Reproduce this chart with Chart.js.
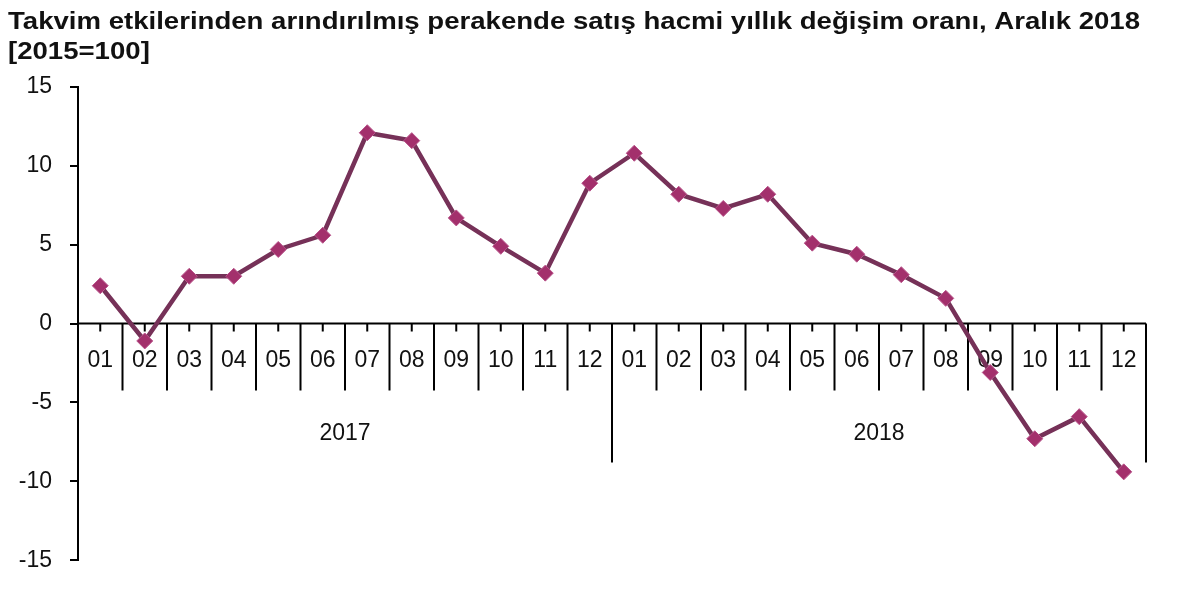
<!DOCTYPE html>
<html><head><meta charset="utf-8">
<script src="https://cdn.jsdelivr.net/npm/chart.js@4"></script>
<style>html,body{margin:0;padding:0;background:#fff;overflow:hidden}canvas{display:block}</style>
</head><body>
<canvas id="c" width="1200" height="592" style="width:1200px;height:592px"></canvas>
<script>
const titleLines = ['Takvim etkilerinden arındırılmış perakende satış hacmi yıllık değişim oranı, Aralık 2018', '[2015=100]'];
const years = ['2017', '2018'];
const months = ['01','02','03','04','05','06','07','08','09','10','11','12'];
const categories = years.flatMap(y => months.map(m => y + '-' + m));
const values = [2.4, -1.1, 3.0, 3.0, 4.7, 5.6, 12.1, 11.6, 6.7, 4.9, 3.2, 8.9,
                10.8, 8.2, 7.3, 8.2, 5.1, 4.4, 3.1, 1.6, -3.1, -7.3, -5.9, -9.4];
const yTicks = [-15, -10, -5, 0, 5, 10, 15];

const FONT = '"Liberation Sans", Arial, sans-serif';

const decor = {
  id: 'decor',
  beforeDatasetsDraw(chart) {
    const ctx = chart.ctx, x = chart.scales.x, y = chart.scales.y, a = chart.chartArea;
    const y0 = y.getPixelForValue(0);
    ctx.save();
    ctx.strokeStyle = '#000';
    ctx.lineWidth = 2;
    ctx.beginPath();
    ctx.moveTo(a.left, y0); ctx.lineTo(a.right, y0);
    const n = categories.length;
    for (let i = 0; i < n; i++) {
      const cx = x.getPixelForValue(i);
      ctx.moveTo(cx, y0); ctx.lineTo(cx, y0 + 8);
    }
    for (let i = 0; i < n - 1; i++) {
      const bx = (x.getPixelForValue(i) + x.getPixelForValue(i + 1)) / 2;
      const long = (i + 1) % months.length === 0;
      ctx.moveTo(bx, y0); ctx.lineTo(bx, y0 + (long ? 139 : 67));
    }
    ctx.moveTo(a.right, y0); ctx.lineTo(a.right, y0 + 139);
    ctx.stroke();
    ctx.fillStyle = '#111';
    ctx.font = '23px ' + FONT;
    ctx.textAlign = 'center';
    ctx.textBaseline = 'middle';
    for (let i = 0; i < n; i++) {
      ctx.fillText(months[i % months.length], x.getPixelForValue(i), y0 + 37);
    }
    years.forEach((yr, k) => {
      const first = x.getPixelForValue(k * months.length);
      const last = x.getPixelForValue(k * months.length + months.length - 1);
      ctx.fillText(yr, (first + last) / 2, y0 + 110);
    });
    ctx.restore();
  },
  afterDraw(chart) {
    const ctx = chart.ctx;
    ctx.save();
    ctx.fillStyle = '#111';
    ctx.font = 'bold 24px ' + FONT;
    ctx.textAlign = 'left';
    ctx.textBaseline = 'alphabetic';
    const targetWidth = 1132;
    const sx = targetWidth / ctx.measureText(titleLines[0]).width;
    ctx.translate(8, 0);
    ctx.scale(sx, 1);
    ctx.fillText(titleLines[0], 0, 29);
    ctx.fillText(titleLines[1], 0, 59);
    ctx.restore();
  }
};

new Chart(document.getElementById('c'), {
  type: 'line',
  data: {
    labels: categories,
    datasets: [{
      data: values,
      borderColor: '#763158',
      borderWidth: 4.5,
      tension: 0,
      pointStyle: 'rectRot',
      pointRadius: 8,
      pointBackgroundColor: '#a3306c',
      pointBorderColor: '#b8538a',
      pointBorderWidth: 1
    }]
  },
  options: {
    responsive: false,
    animation: false,
    devicePixelRatio: 1,
    layout: { padding: { left: 0, right: 54, top: 87, bottom: 31 } },
    plugins: { legend: { display: false }, title: { display: false }, tooltip: { enabled: false } },
    scales: {
      x: { display: false, offset: true },
      y: {
        min: -15, max: 15,
        afterBuildTicks: s => { s.ticks = yTicks.map(v => ({ value: v })); },
        afterFit: s => { s.width = 78; },
        grid: { display: true, drawOnChartArea: false, drawTicks: true, tickLength: 8, color: '#000', lineWidth: 2 },
        border: { display: true, color: '#000', width: 2 },
        ticks: { font: { family: FONT, size: 23 }, color: '#111', padding: 18 }
      }
    }
  },
  plugins: [decor]
});
</script>
</body></html>
